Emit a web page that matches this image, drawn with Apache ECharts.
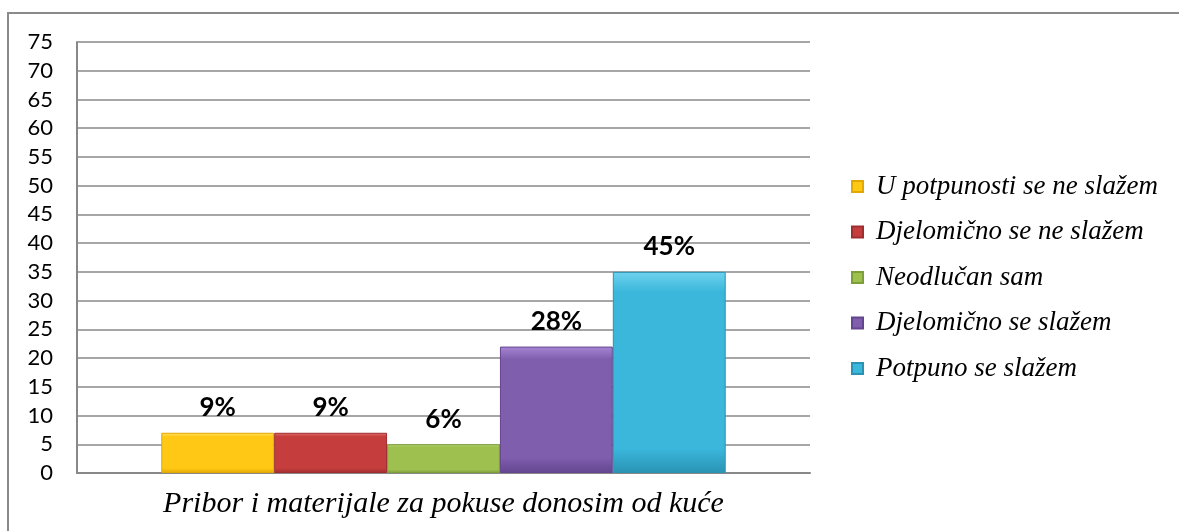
<!DOCTYPE html>
<html><head><meta charset="utf-8">
<script src="https://cdn.jsdelivr.net/npm/echarts@6/dist/echarts.min.js"></script>
<style>html,body{margin:0;padding:0;background:#fff}#frame{position:absolute;left:7px;top:12px;width:1200px;height:600px;border-left:2px solid #8a8a8a;border-top:2px solid #8a8a8a;box-sizing:border-box}#c{position:absolute;left:0;top:0;width:1179px;height:531px}</style>
</head><body><div id="frame"></div><div id="c"></div>
<script>
const category = ['Pribor i materijale za pokuse donosim od kuće'];
const seriesNames = ['U potpunosti se ne slažem','Djelomično se ne slažem','Neodlučan sam','Djelomično se slažem','Potpuno se slažem'];
const values = [7, 7, 5, 22, 35];
const pctLabels = ['9%','9%','6%','28%','45%'];
const colors = [['#FFE066','#FFC814','#E0A800'],['#E06A68','#C53D3D','#A02E30'],['#C4E07A','#9DC04E','#7E9E3A'],['#A787D4','#7F5EAD','#634590'],['#6FD2EE','#3AB7DB','#2A93B3']];
const yTicks = {min:0,max:75,interval:5};

const series = seriesNames.map((n,i)=>({
  name:n,type:'bar',barGap:'0%',barCategoryGap:'23%',
  data:[values[i]],
  itemStyle:{color:new echarts.graphic.LinearGradient(0,0,0,1,[{offset:0,color:colors[i][0]},{offset:0.1,color:colors[i][1]},{offset:0.88,color:colors[i][1]},{offset:1,color:colors[i][2]}]),borderColor:colors[i][2],borderWidth:1},
  label:{show:true,position:'top',distance:12,formatter:()=>pctLabels[i],fontFamily:'Lato, "Open Sans", sans-serif',fontWeight:'bold',fontSize:26,color:'#000'}
}));

const chart = echarts.init(document.getElementById('c'),null,{renderer:'canvas'});
chart.setOption({
  animation:false,
  color:colors.map(c=>c[1]),
  grid:{left:77,top:42,right:369,bottom:58,containLabel:false,outerBoundsMode:'none'},
  legend:{orient:'vertical',left:846,top:168,itemGap:18.5,itemWidth:11,itemHeight:11,icon:'rect',
    textStyle:{fontFamily:'"Liberation Serif", serif',fontStyle:'italic',fontSize:27,lineHeight:27,color:'#000',padding:[0,0,0,8]},
    data:seriesNames},
  xAxis:{type:'category',data:category,
    axisLine:{lineStyle:{color:'#888',width:2}},axisTick:{show:false},axisLabel:{show:false},
    name:category[0],nameLocation:'middle',nameGap:16,
    nameTextStyle:{fontFamily:'"Liberation Serif", serif',fontStyle:'italic',fontSize:30,color:'#000'}},
  yAxis:{type:'value',min:yTicks.min,max:yTicks.max,interval:yTicks.interval,
    axisLine:{show:true,lineStyle:{color:'#888',width:2}},axisTick:{show:false},
    splitLine:{lineStyle:{color:'#888',width:1.5}},
    axisLabel:{margin:24,fontFamily:'Lato, "Open Sans", sans-serif',fontSize:22,color:'#000'}},
  series:series
});
</script></body></html>
